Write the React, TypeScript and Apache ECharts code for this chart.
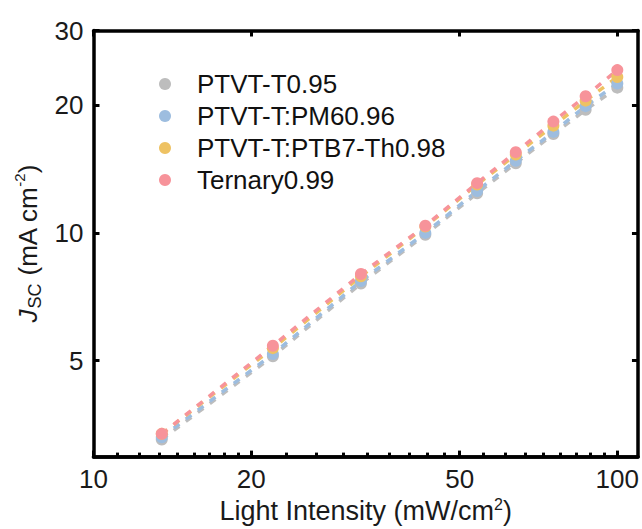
import React, { useEffect, useRef } from 'react';
import * as echarts from 'echarts';

// ---- data ----
const seriesNames = ['PTVT-T0.95', 'PTVT-T:PM60.96', 'PTVT-T:PTB7-Th0.98', 'Ternary0.99'];
const intensity = [13.5, 22, 32.4, 43, 54, 64, 75.5, 87, 100];
const jscPTVT = [3.26, 5.12, 7.6, 9.9, 12.4, 14.6, 17.1, 19.5, 22.0];
const jscPM6 = [3.3, 5.18, 7.7, 10.0, 12.55, 14.8, 17.3, 19.9, 22.5];
const jscPTB7 = [3.36, 5.35, 7.9, 10.35, 13.0, 15.3, 17.9, 20.5, 23.3];
const jscTernary = [3.36, 5.42, 8.0, 10.4, 13.1, 15.5, 18.3, 21.0, 24.2];
const seriesValues = [jscPTVT, jscPM6, jscPTB7, jscTernary];
const seriesColors = ['#bdbdbd', '#9dbddf', '#eec263', '#f7939a'];

const xMajorTicks = [10, 20, 50, 100];
const yMajorTicks = [5, 10, 20, 30];
const X_MIN = 10;
const X_MAX = 109.5;
const Y_MIN = 2.97;
const Y_MAX = 30;

const FONT = "'Liberation Sans', Arial, sans-serif";
const lg = (v: number) => Math.log10(v);

function minorTicks(majors: number[], n: number): number[] {
  const out: number[] = [];
  for (let i = 0; i < majors.length - 1; i++) {
    const a = majors[i];
    const b = majors[i + 1];
    for (let k = 0; k < n; k++) out.push(a + ((b - a) * k) / n);
  }
  out.push(majors[majors.length - 1]);
  return out;
}

const fmt = (v: number) => String(Math.round(Math.pow(10, v)));

export default function App() {
  const ref = useRef<HTMLDivElement>(null);
  useEffect(() => {
    if (!ref.current) return;
    const chart = echarts.init(ref.current, null, { renderer: 'svg' });
    const axisLine = { show: true, onZero: false, lineStyle: { color: '#000', width: 3.5 } };
    const tickStyle = { color: '#000', width: 3 };
    const base = { type: 'value' as const, splitLine: { show: false } };

    const option: any = {
      animation: false,
      backgroundColor: '#fff',
      grid: { left: 93.5, right: 4, top: 30.5, bottom: 68, containLabel: false },
      legend: {
        orient: 'vertical',
        left: 154,
        top: 66,
        itemGap: 6,
        icon: 'circle',
        itemWidth: 12,
        itemHeight: 12,
        textStyle: { fontFamily: FONT, fontSize: 26, color: '#111', padding: [0, 0, 0, 21] },
        data: seriesNames,
      },
      xAxis: [
        {
          ...base,
          position: 'bottom',
          min: lg(X_MIN),
          max: lg(X_MAX),
          axisLine,
          axisTick: { show: true, inside: true, length: 4, lineStyle: tickStyle, customValues: minorTicks(xMajorTicks, 9).map(lg) },
          axisLabel: {
            show: true,
            margin: 9,
            fontFamily: FONT,
            fontSize: 26,
            color: '#1a1a1a',
            customValues: xMajorTicks.map(lg),
            formatter: fmt,
          },
          name: 'Light Intensity (mW/cm{p|2})',
          nameLocation: 'middle',
          nameGap: 36,
          nameTextStyle: {
            fontFamily: FONT,
            fontSize: 27,
            color: '#1a1a1a',
            rich: { p: { fontFamily: FONT, fontSize: 16, color: '#1a1a1a', verticalAlign: 'top', lineHeight: 28 } },
          },
        },
        {
          ...base,
          position: 'bottom',
          min: lg(X_MIN),
          max: lg(X_MAX),
          axisLine,
          axisTick: { show: true, inside: true, length: 6, lineStyle: tickStyle, customValues: xMajorTicks.map(lg) },
          axisLabel: { show: false },
        },
        {
          ...base,
          position: 'top',
          min: lg(X_MIN),
          max: lg(X_MAX),
          axisLine,
          axisTick: { show: true, inside: true, length: 6, lineStyle: tickStyle, customValues: xMajorTicks.map(lg) },
          axisLabel: { show: false },
        },
      ],
      yAxis: [
        {
          ...base,
          position: 'left',
          min: lg(Y_MIN),
          max: lg(Y_MAX),
          axisLine,
          axisTick: { show: true, inside: true, length: 6, lineStyle: tickStyle, customValues: yMajorTicks.map(lg) },
          axisLabel: {
            show: true,
            margin: 10,
            fontFamily: FONT,
            fontSize: 26,
            color: '#1a1a1a',
            customValues: yMajorTicks.map(lg),
            formatter: fmt,
          },
          name: '{i|J}{s|SC}{n| (mA cm}{p|-2}{n|)}',
          nameLocation: 'middle',
          nameRotate: 90,
          nameGap: 48,
          nameTextStyle: {
            fontFamily: FONT,
            fontSize: 26,
            color: '#1a1a1a',
            rich: {
              i: { fontFamily: FONT, fontSize: 26, fontStyle: 'italic', color: '#1a1a1a', lineHeight: 32, verticalAlign: 'middle' },
              s: { fontFamily: FONT, fontSize: 18, color: '#1a1a1a', lineHeight: 32, verticalAlign: 'bottom', padding: [0, 0, 0, 1] },
              n: { fontFamily: FONT, fontSize: 26, color: '#1a1a1a', lineHeight: 32, verticalAlign: 'middle' },
              p: { fontFamily: FONT, fontSize: 15, color: '#1a1a1a', lineHeight: 32, verticalAlign: 'top' },
            },
          },
        },
        {
          ...base,
          position: 'right',
          min: lg(Y_MIN),
          max: lg(Y_MAX),
          axisLine,
          axisTick: { show: true, inside: true, length: 6, lineStyle: tickStyle, customValues: yMajorTicks.map(lg) },
          axisLabel: { show: false },
        },
      ],
      series: seriesNames.map((name, si) => ({
        name,
        type: 'line',
        xAxisIndex: 0,
        yAxisIndex: 0,
        data: intensity.map((x, i) => [lg(x), lg(seriesValues[si][i])]),
        symbol: 'circle',
        symbolSize: 12,
        showSymbol: true,
        itemStyle: { color: seriesColors[si] },
        lineStyle: { color: seriesColors[si], width: 3.5, type: [7, 8] },
        emphasis: { disabled: true },
      })),
    };
    chart.setOption(option);
    return () => chart.dispose();
  }, []);
  return <div ref={ref} style={{ position: 'fixed', left: 0, top: 0, width: 642, height: 529 }} />;
}
